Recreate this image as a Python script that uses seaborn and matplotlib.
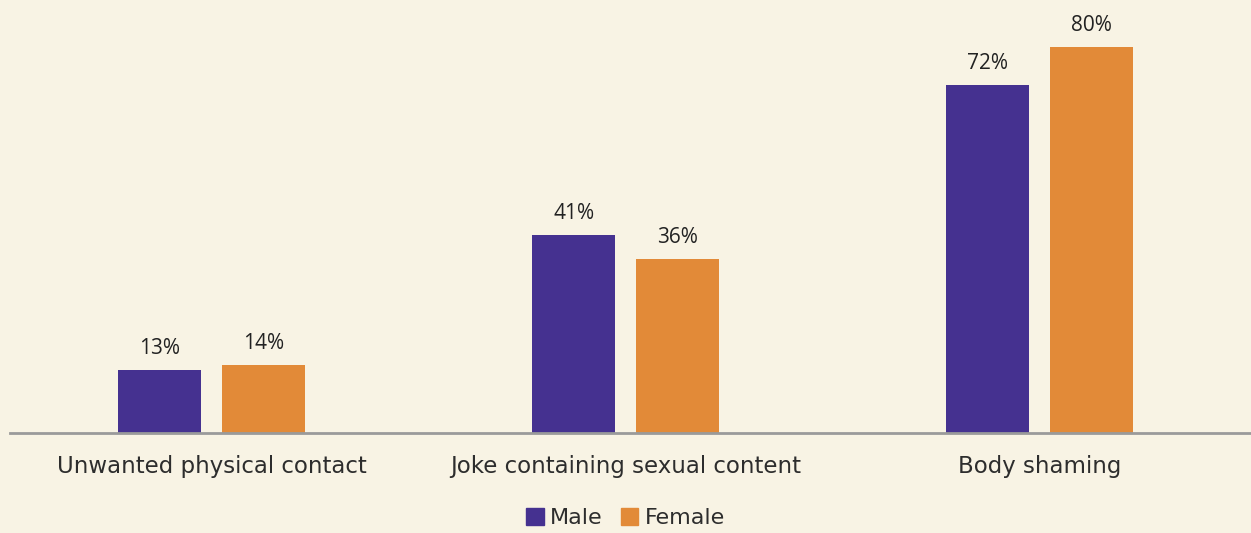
import pandas as pd
import numpy as np
import matplotlib.pyplot as plt
import seaborn as sns

# data
categories = ["Unwanted physical contact", "Joke containing sexual content", "Body shaming"]
male = [13, 41, 72]
female = [14, 36, 80]

df = pd.DataFrame({
    "Category": categories * 2,
    "Gender": ["Male"] * 3 + ["Female"] * 3,
    "Value": male + female,
})

bg = "#f8f3e4"
palette = {"Male": "#453190", "Female": "#e28a38"}

sns.set_theme(style="white")
plt.rcParams["font.family"] = ["Open Sans", "DejaVu Sans"]

fig = plt.figure(figsize=(12.51, 5.33), dpi=100, facecolor=bg)
ax = fig.add_axes([10 / 1251, 100 / 533, 1 - 10 / 1251, 433 / 533])
ax.set_facecolor(bg)

sns.barplot(data=df, x="Category", y="Value", hue="Gender", palette=palette,
            width=0.5, gap=0.2, ax=ax, legend=False, saturation=1,
            edgecolor="none", linewidth=0)

for c in ax.containers:
    ax.bar_label(c, labels=[f"{v:.0f}%" for v in c.datavalues], padding=8,
                 fontsize=15, color="#222222")

ax.set_xlim(-0.487, 2.511)
ax.set_ylim(0, 89.7)
ax.set_xlabel("")
ax.set_ylabel("")
ax.set_yticks([])
for s in ["top", "right", "left"]:
    ax.spines[s].set_visible(False)
ax.spines["bottom"].set_color("#9a9a9a")
ax.spines["bottom"].set_linewidth(2)
ax.tick_params(axis="x", length=0, pad=16, labelcolor="#2d2d2d")
for lbl in ax.get_xticklabels():
    lbl.set_fontfamily("DejaVu Sans")
    lbl.set_fontsize(16.5)

handles = [plt.Rectangle((0, 0), 1, 1, color=palette[g]) for g in ["Male", "Female"]]
fig.legend(handles, ["Male", "Female"], loc="center", bbox_to_anchor=(0.5, 15 / 533),
           ncol=2, frameon=False, prop={"family": "DejaVu Sans", "size": 16},
           handlelength=0.8, handleheight=0.8,
           handletextpad=0.3, columnspacing=0.8, labelcolor="#2d2d2d")

fig.savefig("out.png", dpi=100, facecolor=bg)
